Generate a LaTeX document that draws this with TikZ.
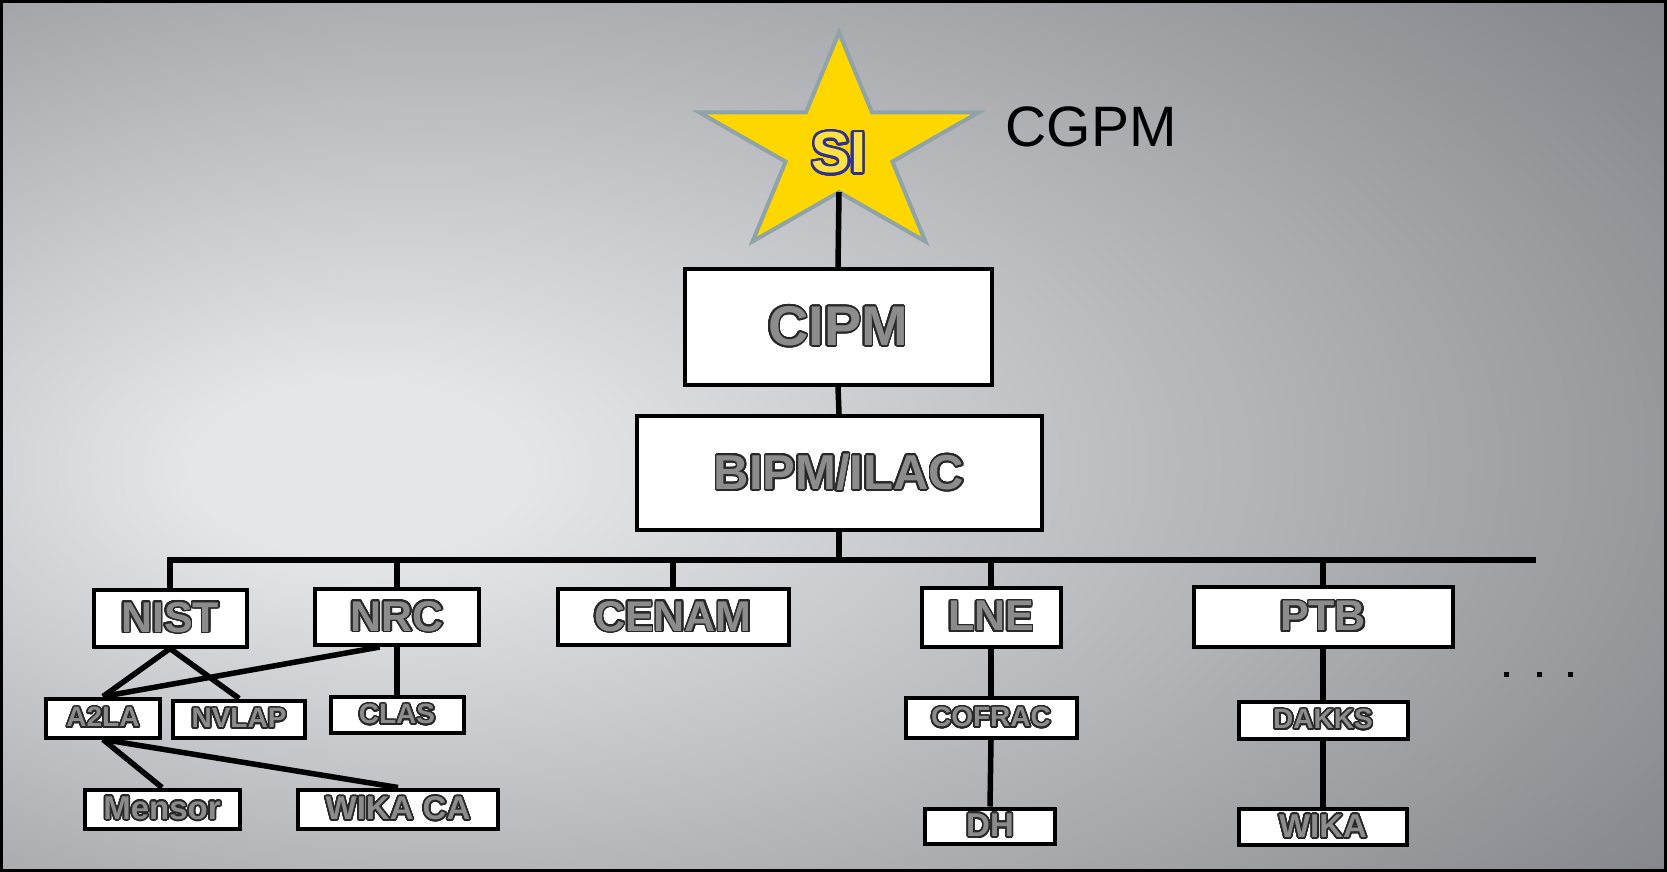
\documentclass[tikz,border=0pt]{standalone}
\usepackage{fontspec}
\setmainfont{Liberation Sans}
\usepackage{contour}
\contourlength{1.6pt}
\contournumber{32}
\definecolor{bglight}{RGB}{229,230,232}
\definecolor{bgdark}{RGB}{106,107,113}
\definecolor{labelfill}{RGB}{140,140,140}
\definecolor{labeledge}{RGB}{40,40,40}
\definecolor{stargold}{RGB}{255,215,0}
\definecolor{staredge}{RGB}{143,163,168}
\definecolor{sinavy}{RGB}{46,49,146}
\pgfdeclareradialshading{bgglow}{\pgfpoint{-15bp}{-2bp}}{color(0bp)=(bglight); color(5bp)=(bglight); color(52bp)=(bgdark); color(100bp)=(bgdark)}

\begin{document}
\begin{tikzpicture}[x=1pt, y=-1pt,
  orgbox/.style={draw, fill=white, text=labelfill, line width=4pt, inner sep=0pt},
  toplbl/.style={font=\fontsize{43}{43}\selectfont\bfseries},
  sublbl/.style={font=\fontsize{28}{28}\selectfont\bfseries},
  lablbl/.style={font=\fontsize{33}{33}\selectfont\bfseries},
  link/.style={line width=5.5pt}]
  \useasboundingbox (0,0) rectangle (1667,872);
  \shade[shading=bgglow] (0,0) rectangle (1667,872);
  \draw[line width=3pt] (1.5,1.5) rectangle (1665.5,870.5);

  % the star
  \begin{scope}[shift={(839,148)}, xscale=147, yscale=-115.5]
    \draw[fill=stargold, draw=staredge, line width=4pt]
      (90:1) \foreach \k in {1,...,9} {-- ({90+36*\k}:{0.691+0.309*cos(180*\k)})} -- cycle;
  \end{scope}
  \coordinate (sibot) at (839,192);
  \node[text=stargold!75!white, font=\fontsize{58}{58}\selectfont\bfseries] (si) at (839,154) {\contourlength{2.6pt}\contour{sinavy}{SI}};
  \node[font=\fontsize{57}{57}\selectfont] (cgpm) at (1091,127) {CGPM};

  % top of the chain
  \node[orgbox, minimum width=307pt, minimum height=116pt, font=\fontsize{56}{56}\selectfont\bfseries] (cipm) at (838,327) {\contour{labeledge}{CIPM}};
  \node[orgbox, minimum width=405pt, minimum height=114pt, font=\fontsize{49}{49}\selectfont\bfseries] (bipm) at (839,473) {\contour{labeledge}{BIPM/ILAC}};

  % national institutes
  \node[orgbox, toplbl, minimum width=153pt, minimum height=57pt] (nist) at (170,618) {\contour{labeledge}{NIST}};
  \node[orgbox, toplbl, minimum width=164pt, minimum height=56pt] (nrc) at (397,617) {\contour{labeledge}{NRC}};
  \node[orgbox, toplbl, minimum width=231pt, minimum height=56pt] (cenam) at (673,617) {\contour{labeledge}{CENAM}};
  \node[orgbox, toplbl, minimum width=139pt, minimum height=59pt] (lne) at (991,617) {\contour{labeledge}{LNE}};
  \node[orgbox, toplbl, minimum width=259pt, minimum height=60pt] (ptb) at (1323,617) {\contour{labeledge}{PTB}};

  % accreditation bodies
  \node[orgbox, sublbl, minimum width=114pt, minimum height=39pt] (a2la) at (103,718) {\contour{labeledge}{A2LA}};
  \node[orgbox, sublbl, minimum width=132pt, minimum height=37pt] (nvlap) at (239,719) {\contour{labeledge}{NVLAP}};
  \node[orgbox, sublbl, minimum width=133pt, minimum height=36pt] (clas) at (397,715) {\contour{labeledge}{CLAS}};
  \node[orgbox, sublbl, minimum width=171pt, minimum height=40pt] (cofrac) at (991,718) {\contour{labeledge}{COFRAC}};
  \node[orgbox, sublbl, minimum width=169pt, minimum height=37pt] (dakks) at (1323,720) {\contour{labeledge}{DAKKS}};

  % labs
  \node[orgbox, lablbl, minimum width=155pt, minimum height=39pt] (mensor) at (162,809) {\contour{labeledge}{Mensor}};
  \node[orgbox, lablbl, minimum width=200pt, minimum height=39pt] (wikaca) at (398,809) {\contour{labeledge}{WIKA CA}};
  \node[orgbox, lablbl, minimum width=130pt, minimum height=35pt] (dh) at (990,826) {\contour{labeledge}{DH}};
  \node[orgbox, lablbl, minimum width=168pt, minimum height=36pt] (wika) at (1323,827) {\contour{labeledge}{WIKA}};

  % links
  \coordinate (busend) at (1536,560);
  \draw[link] (sibot) -- (cipm.north);
  \draw[link] (cipm.south) -- (bipm.north);
  \draw[link] (bipm.south) -- (bipm.south |- busend);
  \draw[link] (nist.north) |- (busend);
  \foreach \n in {nrc,cenam,lne,ptb}
    \draw[link] (\n.north) -- (\n.north |- busend);
  \draw[link] (nist.south) -- (a2la.north);
  \draw[link] (nist.south) -- (nvlap.north);
  \draw[link] (nrc.240) -- (a2la.north);
  \draw[link] (nrc.south) -- (clas.north);
  \draw[link] (a2la.south) -- (mensor.north);
  \draw[link] (a2la.south) -- (wikaca.north);
  \draw[link] (lne.south) -- (cofrac.north);
  \draw[link] (cofrac.south) -- (dh.north);
  \draw[link] (ptb.south) -- (dakks.north);
  \draw[link] (dakks.south) -- (wika.north);

  % more to the right
  \foreach \x in {1506,1539,1570}
    \fill (\x-2.5,671.5) rectangle ++(5,5);
\end{tikzpicture}
\end{document}
